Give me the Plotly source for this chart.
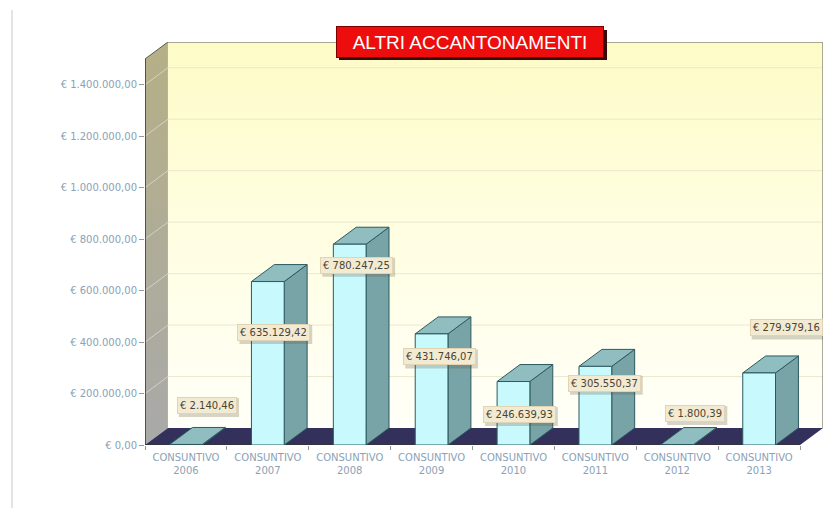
import plotly.graph_objects as go

# ---- data -------------------------------------------------------------
years = ["2006", "2007", "2008", "2009", "2010", "2011", "2012", "2013"]
categories = [f"CONSUNTIVO<br>{y}" for y in years]
values = [2140.46, 635129.42, 780247.25, 431746.07,
          246639.93, 305550.37, 1800.39, 279979.16]
y_ticks = [0, 200000, 400000, 600000, 800000, 1000000, 1200000, 1400000]

# ---- styling / layout -------------------------------------------------
W, H = 827, 508
ML, MR, MT, MB = 145, 4, 42, 63
Y_TOP = 1_500_000          # height of the front plane
DX = 0.28                  # depth offset along x (category units)
DY = 66000                 # depth offset along y (value units)
BAR_W = 0.40

label_xshift = [21, 6, 7, 8, 6, 9, 18, 27]
label_yshift = [39, -51, -21, -23, -33, -17, 31, 45]

FRONT = "#c8f9fd"
SIDE = "#79a4a7"
TOP = "#8fbdc0"
EDGE = "#2b5a60"
FLOOR = "#34305c"
TICK_FONT = dict(family="DejaVu Sans, Verdana", size=10, color="#8aa2b6")
LABEL_SIZE = 10


def euro(v):
    s = f"{v:,.2f}".replace(",", "X").replace(".", ",").replace("X", ".")
    return "€ " + s


def label_box_width(text, size):
    # approximate DejaVu Sans advance widths (em units)
    em = sum(0.318 if ch in " .," else 0.636 for ch in text)
    return em * size + 6


def poly(xs, ys, fill, line_color=None, line_width=0, gradient=None):
    kw = dict(
        x=list(xs) + [xs[0]], y=list(ys) + [ys[0]],
        mode="lines", fill="toself", hoverinfo="skip", showlegend=False,
        line=dict(color=line_color or fill, width=line_width),
    )
    if gradient is not None:
        kw["fillgradient"] = dict(type="vertical", colorscale=gradient)
    else:
        kw["fillcolor"] = fill
    return go.Scatter(**kw)


def seg(x0, y0, x1, y1, color, width=1):
    return go.Scatter(x=[x0, x1], y=[y0, y1], mode="lines",
                      line=dict(color=color, width=width),
                      hoverinfo="skip", showlegend=False)


x_left, x_right = -0.5, len(values) - 0.5
fig = go.Figure()

# back wall
fig.add_trace(poly([x_left + DX, x_right + DX, x_right + DX, x_left + DX],
                   [DY, DY, Y_TOP + DY, Y_TOP + DY], "#fffde0",
                   gradient=[[0, "#fffff8"], [0.5, "#fffee2"], [1, "#fdfbc6"]]))
# back-wall grid
for t in y_ticks[1:]:
    fig.add_trace(seg(x_left + DX, t + DY, x_right + DX, t + DY, "#ebe8d0", 1))
# back wall frame
fig.add_trace(go.Scatter(x=[x_left + DX, x_right + DX, x_right + DX],
                         y=[Y_TOP + DY, Y_TOP + DY, DY], mode="lines",
                         line=dict(color="#8e8e84", width=1.5),
                         hoverinfo="skip", showlegend=False))

# left wall
fig.add_trace(poly([x_left, x_left + DX, x_left + DX, x_left],
                   [0, DY, Y_TOP + DY, Y_TOP], "#b0ab85",
                   gradient=[[0, "#a9a9a9"], [1, "#b5b086"]]))
for t in y_ticks[1:]:
    fig.add_trace(seg(x_left, t, x_left + DX, t + DY, "rgba(255,255,255,0.45)", 1))
fig.add_trace(seg(x_left, Y_TOP, x_left + DX, Y_TOP + DY, "#5a5a50", 1))
fig.add_trace(seg(x_left, 0, x_left, Y_TOP, "#333333", 1.5))

# floor
fig.add_trace(poly([x_left, x_right, x_right + DX, x_left + DX],
                   [0, 0, DY, DY], FLOOR))
fig.add_trace(seg(x_left, 0, x_right, 0, "#333333", 1.5))

# bars: side, top, front faces
for i, v in enumerate(values):
    xl, xr = i - BAR_W / 2, i + BAR_W / 2
    fig.add_trace(poly([xr, xr + DX, xr + DX, xr], [0, DY, v + DY, v],
                       SIDE, EDGE, 1))
    fig.add_trace(poly([xl, xr, xr + DX, xl + DX], [v, v, v + DY, v + DY],
                       TOP, EDGE, 1))
    fig.add_trace(poly([xl, xr, xr, xl], [0, 0, v, v], FRONT, EDGE, 1))

# value labels, each with a soft drop shadow drawn as a pixel-sized shape
annotations, shapes = [], []
for i, v in enumerate(values):
    text = euro(v)
    w = label_box_width(text, LABEL_SIZE)
    h = LABEL_SIZE * 1.3 + 6
    xs, ys = label_xshift[i], label_yshift[i]
    shapes.append(dict(type="rect", xref="x", yref="y",
                       xsizemode="pixel", ysizemode="pixel",
                       xanchor=i, yanchor=v,
                       x0=xs - w / 2 + 2, x1=xs + w / 2 + 2,
                       y0=ys - h / 2 - 2, y1=ys + h / 2 - 2,
                       fillcolor="rgba(90,80,60,0.25)", line=dict(width=0),
                       layer="above"))
    annotations.append(dict(x=i, y=v, xref="x", yref="y", text=text,
                            showarrow=False, xshift=xs, yshift=ys,
                            font=dict(family="DejaVu Sans, Verdana",
                                      size=LABEL_SIZE, color="#4a4434"),
                            bgcolor="#f3ead2", bordercolor="#e0d4b4",
                            borderwidth=1, borderpad=2,
                            xanchor="center", yanchor="middle"))

# title with drop shadow
plot_w = W - ML - MR
plot_h = H - MT - MB
tx = (470 - ML) / plot_w
TW, TH = 268, 30
px_x = lambda p: (p - ML) / plot_w
px_y = lambda p: (H - MB - p) / plot_h
shapes.append(dict(type="rect", xref="paper", yref="paper",
                   x0=px_x(470 - TW / 2 + 3), x1=px_x(470 + TW / 2 + 3),
                   y0=px_y(42 + TH / 2 + 3), y1=px_y(42 - TH / 2 + 3),
                   fillcolor="#3a0a0a", line=dict(width=0), layer="above"))
annotations.append(dict(x=tx, y=1.0, xref="paper", yref="paper", showarrow=False,
                        text="ALTRI ACCANTONAMENTI", width=TW - 6, height=TH - 4,
                        borderpad=2, xanchor="center", yanchor="middle",
                        bgcolor="#ee0d0d", bordercolor="#7a0000", borderwidth=1,
                        font=dict(family="Liberation Sans, Arial", size=19,
                                  color="white")))

# thin frame line at the far left of the page
shapes.append(dict(type="line", xref="paper", yref="paper",
                   x0=px_x(12), x1=px_x(12), y0=px_y(10), y1=px_y(H),
                   line=dict(color="#e4e4e4", width=2)))

fig.update_layout(
    width=W, height=H,
    margin=dict(l=ML, r=MR, t=MT, b=MB),
    paper_bgcolor="white", plot_bgcolor="white",
    showlegend=False,
    annotations=annotations,
    shapes=shapes,
    xaxis=dict(range=[x_left, x_right + DX], tickvals=list(range(len(values))),
               ticktext=categories, showgrid=False, zeroline=False,
               showline=False, ticks="", tickfont=TICK_FONT, fixedrange=True,
               ticklabelstandoff=5,
               minor=dict(tickvals=[i - 0.5 for i in range(len(values) + 1)],
                          ticks="outside", ticklen=4, tickcolor="#999999")),
    yaxis=dict(range=[0, Y_TOP + DY], tickvals=y_ticks,
               ticktext=[euro(t) for t in y_ticks], showgrid=False,
               zeroline=False, showline=False, ticks="outside", ticklen=5,
               tickcolor="#999999", tickfont=TICK_FONT, fixedrange=True),
)

fig.write_html("out.html")
